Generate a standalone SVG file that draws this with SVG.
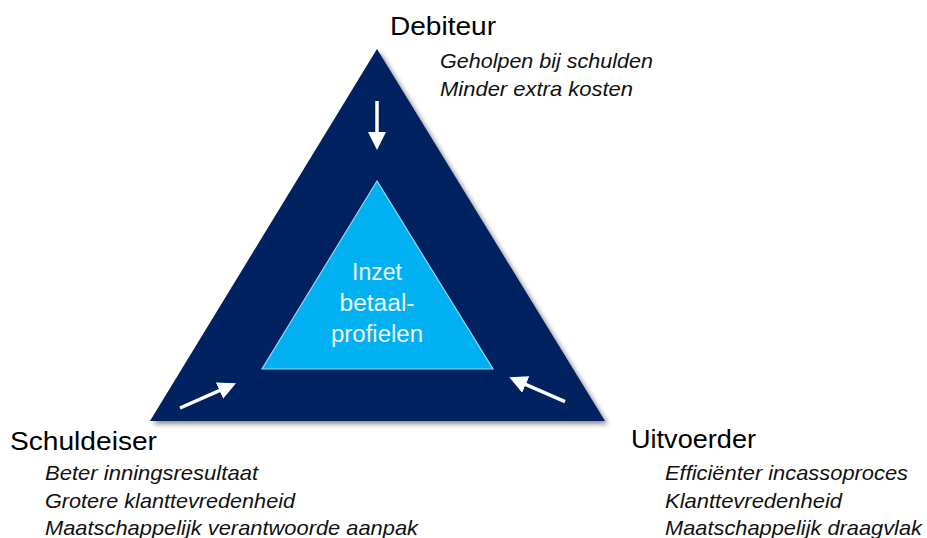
<svg xmlns="http://www.w3.org/2000/svg" width="927" height="538" viewBox="0 0 927 538">
  <style>
    .title { font-family: "Liberation Sans", Arial, sans-serif; font-size: 25px; fill: #000; }
    .item { font-family: "Liberation Sans", Arial, sans-serif; font-size: 21px; font-style: italic; fill: #111; }
    .center { font-family: "Liberation Sans", Arial, sans-serif; font-size: 23px; fill: #EEF6FD; text-anchor: middle; }
    .arrow { stroke: #fff; stroke-width: 3.5; fill: none; }
  </style>
  <defs>
    <filter id="shadow" x="-10%" y="-10%" width="125%" height="125%">
      <feGaussianBlur in="SourceAlpha" stdDeviation="2.5"/>
      <feOffset dx="3" dy="3" result="b"/>
      <feComponentTransfer><feFuncA type="linear" slope="0.45"/></feComponentTransfer>
      <feMerge><feMergeNode/><feMergeNode in="SourceGraphic"/></feMerge>
    </filter>
    <marker id="head" markerUnits="userSpaceOnUse" markerWidth="20" markerHeight="20" refX="6" refY="9" orient="auto">
      <path d="M0,0 L18,9 L0,18 z" fill="#fff"/>
    </marker>
  </defs>

  <g id="outer-triangle">
    <polygon points="377,49 150,421 605,421" fill="#002060" filter="url(#shadow)"/>
  </g>

  <g id="inner-triangle">
    <polygon points="377,181 262,369 493,369" fill="#00B0F0" stroke="#8FD6F5" stroke-width="1.2"/>
    <text class="center" x="377" y="280" textLength="50" lengthAdjust="spacingAndGlyphs">Inzet</text>
    <text class="center" x="377" y="311" textLength="75" lengthAdjust="spacingAndGlyphs">betaal-</text>
    <text class="center" x="377" y="342" textLength="92" lengthAdjust="spacingAndGlyphs">profielen</text>
  </g>

  <g id="connectors">
    <line class="arrow" x1="377" y1="101" x2="377" y2="138" marker-end="url(#head)"/>
    <line class="arrow" x1="180" y1="408" x2="225" y2="388.2" marker-end="url(#head)"/>
    <line class="arrow" x1="565" y1="401.7" x2="520.3" y2="382.1" marker-end="url(#head)"/>
  </g>

  <g id="debiteur">
    <text class="title" x="390" y="35" textLength="106" lengthAdjust="spacingAndGlyphs">Debiteur</text>
    <text class="item" x="440" y="68" textLength="213" lengthAdjust="spacingAndGlyphs">Geholpen bij schulden</text>
    <text class="item" x="440" y="96" textLength="193" lengthAdjust="spacingAndGlyphs">Minder extra kosten</text>
  </g>

  <g id="schuldeiser">
    <text class="title" x="10" y="450" textLength="147" lengthAdjust="spacingAndGlyphs">Schuldeiser</text>
    <text class="item" x="45" y="480" textLength="213" lengthAdjust="spacingAndGlyphs">Beter inningsresultaat</text>
    <text class="item" x="45" y="508" textLength="250" lengthAdjust="spacingAndGlyphs">Grotere klanttevredenheid</text>
    <text class="item" x="45" y="535" textLength="373" lengthAdjust="spacingAndGlyphs">Maatschappelijk verantwoorde aanpak</text>
  </g>

  <g id="uitvoerder">
    <text class="title" x="631" y="448" textLength="125" lengthAdjust="spacingAndGlyphs">Uitvoerder</text>
    <text class="item" x="665" y="480" textLength="243" lengthAdjust="spacingAndGlyphs">Efficiënter incassoproces</text>
    <text class="item" x="665" y="508" textLength="177" lengthAdjust="spacingAndGlyphs">Klanttevredenheid</text>
    <text class="item" x="665" y="535" textLength="257" lengthAdjust="spacingAndGlyphs">Maatschappelijk draagvlak</text>
  </g>
</svg>
